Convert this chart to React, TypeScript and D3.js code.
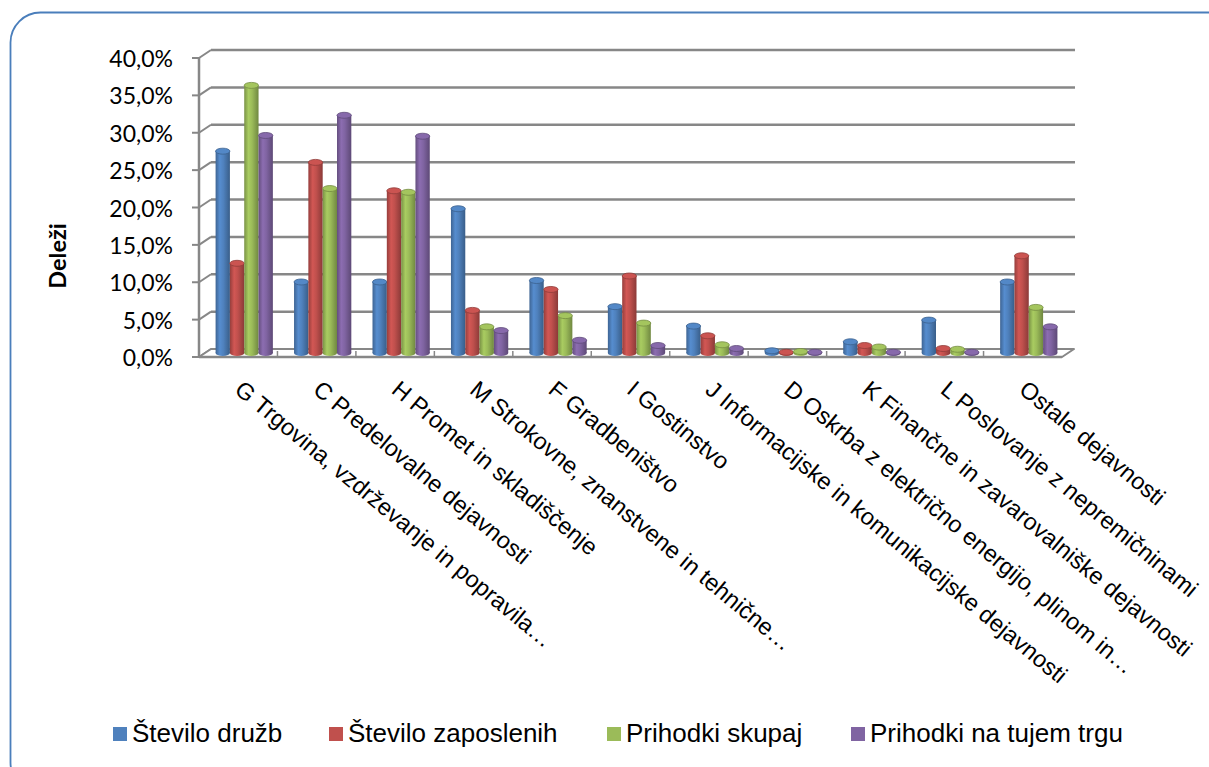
import { useEffect, useRef } from 'react';
import * as d3 from 'd3';

const categories = [
  'G Trgovina, vzdrževanje in popravila…',
  'C Predelovalne dejavnosti',
  'H Promet in skladiščenje',
  'M Strokovne, znanstvene in tehnične…',
  'F Gradbeništvo',
  'I Gostinstvo',
  'J Informacijske in komunikacijske dejavnosti',
  'D Oskrba z električno energijo, plinom in…',
  'K Finančne in zavarovalniške dejavnosti',
  'L Poslovanje z nepremičninami',
  'Ostale dejavnosti',
];

const seriesNames = ['Število družb', 'Število zaposlenih', 'Prihodki skupaj', 'Prihodki na tujem trgu'];
const steviloDruzb = [27.0, 9.5, 9.5, 19.3, 9.7, 6.2, 3.6, 0.3, 1.5, 4.4, 9.5];
const steviloZaposlenih = [12.0, 25.5, 21.7, 5.7, 8.5, 10.3, 2.3, 0.1, 1.0, 0.6, 13.0];
const prihodkiSkupaj = [35.8, 22.0, 21.5, 3.5, 5.0, 4.0, 1.1, 0.2, 0.8, 0.5, 6.1];
const prihodkiTujina = [29.1, 31.8, 29.0, 3.0, 1.7, 1.0, 0.6, 0.1, 0.1, 0.1, 3.5];
const seriesValues = [steviloDruzb, steviloZaposlenih, prihodkiSkupaj, prihodkiTujina];

const yTicks = [0, 5, 10, 15, 20, 25, 30, 35, 40];
const yTickLabels = ['0,0%', '5,0%', '10,0%', '15,0%', '20,0%', '25,0%', '30,0%', '35,0%', '40,0%'];

const colors = ['#4F81BD', '#C0504D', '#9BBB59', '#8064A2'];

const W = 1209;
const H = 767;

export default function App() {
  const ref = useRef<SVGSVGElement>(null);

  useEffect(() => {
    document.body.style.margin = '0';
    if (!ref.current) return;
    const svg = d3.select(ref.current);
    svg.selectAll('*').remove();

    // 3d box: front plane -> back plane offset
    const frontX0 = 199, frontX1 = 1062;
    const depthX = 12, depthY = -8;
    const yFront = d3.scaleLinear().domain([0, 40]).range([357, 58]);
    const yBack = (v: number) => yFront(v) + depthY;
    const yMid = (v: number) => yFront(v) + depthY / 2;
    const grey = '#878787';

    // gradients
    const defs = svg.append('defs');
    colors.forEach((c, i) => {
      const base = d3.color(c)!;
      const g = defs.append('linearGradient').attr('id', `cyl${i}`).attr('x1', 0).attr('x2', 1).attr('y1', 0).attr('y2', 0);
      g.append('stop').attr('offset', '0%').attr('stop-color', base.darker(0.7).formatHex());
      g.append('stop').attr('offset', '30%').attr('stop-color', base.brighter(0.25).formatHex());
      g.append('stop').attr('offset', '55%').attr('stop-color', c);
      g.append('stop').attr('offset', '100%').attr('stop-color', base.darker(0.9).formatHex());
    });

    // frame
    svg.append('rect')
      .attr('x', 10.5).attr('y', 12.5).attr('width', 1230).attr('height', 780).attr('rx', 30)
      .attr('fill', 'white').attr('stroke', '#4A7EBB').attr('stroke-width', 1.8);

    // back wall gridlines + side wall diagonals + ticks
    const gridG = svg.append('g').attr('stroke', grey).attr('fill', 'none');
    yTicks.forEach((t) => {
      if (t > 0) {
        gridG.append('line')
          .attr('x1', frontX0 + depthX).attr('x2', frontX1 + depthX + 1)
          .attr('y1', yBack(t)).attr('y2', yBack(t)).attr('stroke-width', 2.5);
      }
      gridG.append('line')
        .attr('x1', frontX0).attr('x2', frontX0 + depthX)
        .attr('y1', yFront(t)).attr('y2', yBack(t)).attr('stroke-width', 2);
      gridG.append('line')
        .attr('x1', frontX0 - 7).attr('x2', frontX0)
        .attr('y1', yFront(t)).attr('y2', yFront(t)).attr('stroke-width', 2);
    });
    gridG.append('line')
      .attr('x1', frontX0).attr('x2', frontX0)
      .attr('y1', yFront(0)).attr('y2', yFront(40)).attr('stroke-width', 2.5);

    // floor
    gridG.append('path')
      .attr('d', `M${frontX0},${yFront(0)} L${frontX1},${yFront(0)} L${frontX1 + depthX},${yBack(0)} L${frontX0 + depthX},${yBack(0)} Z`)
      .attr('fill', 'white').attr('stroke-width', 2).attr('stroke-linejoin', 'round');
    gridG.append('line')
      .attr('x1', frontX0).attr('x2', frontX1)
      .attr('y1', yFront(0)).attr('y2', yFront(0)).attr('stroke-width', 2.5);

    const xFront = d3.scaleBand<string>().domain(categories).range([frontX0, frontX1]);
    categories.forEach((c, i) => {
      if (i === 0) return;
      const x = xFront(c)!;
      gridG.append('line')
        .attr('x1', x).attr('x2', x)
        .attr('y1', yFront(0) - 6).attr('y2', yFront(0)).attr('stroke-width', 1.5);
    });

    // bars (mid depth)
    const x0 = d3.scaleBand<string>().domain(categories)
      .range([frontX0 + depthX / 2, frontX1 + depthX / 2])
      .paddingInner(0.27).paddingOuter(0.135);
    const x1 = d3.scaleBand<number>().domain(d3.range(seriesNames.length)).range([0, x0.bandwidth()]);
    const ry = 3;

    const barsG = svg.append('g');
    categories.forEach((cat, ci) => {
      seriesValues.forEach((vals, si) => {
        const v = vals[ci];
        const bx = x0(cat)! + x1(si)!;
        const bw = x1.bandwidth();
        const top = yMid(v);
        const bottom = yMid(0);
        const base = d3.color(colors[si])!;
        barsG.append('ellipse')
          .attr('cx', bx + bw / 2).attr('cy', bottom).attr('rx', bw / 2).attr('ry', ry)
          .attr('fill', `url(#cyl${si})`);
        barsG.append('rect')
          .attr('x', bx).attr('y', top).attr('width', bw).attr('height', Math.max(0, bottom - top))
          .attr('fill', `url(#cyl${si})`);
        barsG.append('ellipse')
          .attr('cx', bx + bw / 2).attr('cy', top).attr('rx', bw / 2).attr('ry', ry)
          .attr('fill', base.brighter(0.15).formatHex())
          .attr('stroke', base.darker(0.8).formatHex()).attr('stroke-width', 0.8);
      });
    });

    // y tick labels
    svg.append('g')
      .selectAll('text')
      .data(yTicks)
      .join('text')
      .attr('x', 173)
      .attr('y', (d) => yFront(d) + 9)
      .attr('text-anchor', 'end')
      .attr('font-family', 'Lato, "Open Sans", sans-serif')
      .attr('font-size', 23)
      .attr('fill', '#000')
      .text((d, i) => yTickLabels[i]);

    // y title
    svg.append('text')
      .attr('transform', 'translate(66,256) rotate(-90)')
      .attr('text-anchor', 'middle')
      .attr('font-family', 'Lato, "Open Sans", sans-serif')
      .attr('font-weight', 700)
      .attr('font-size', 23.5)
      .attr('fill', '#000')
      .text('Deleži');

    // x labels
    svg.append('g')
      .selectAll('text')
      .data(categories)
      .join('text')
      .attr('transform', (d) => `translate(${xFront(d)! + xFront.bandwidth() / 2 - 5},392) rotate(39.5)`)
      .attr('text-anchor', 'start')
      .attr('font-family', '"Liberation Sans", Arial, sans-serif')
      .attr('font-size', 23.5)
      .attr('fill', '#000')
      .text((d) => d);

    // legend
    const legendX = [113, 329, 607, 851];
    const lg = svg.append('g');
    seriesNames.forEach((name, i) => {
      lg.append('rect').attr('x', legendX[i]).attr('y', 727).attr('width', 14).attr('height', 14).attr('fill', colors[i]);
      lg.append('text')
        .attr('x', legendX[i] + 19).attr('y', 742)
        .attr('font-family', '"Liberation Sans", Arial, sans-serif')
        .attr('font-size', 26)
        .attr('fill', '#000')
        .text(name);
    });
  }, []);

  return (
    <svg ref={ref} width={W} height={H} style={{ position: 'absolute', left: 0, top: 0, display: 'block' }} />
  );
}
